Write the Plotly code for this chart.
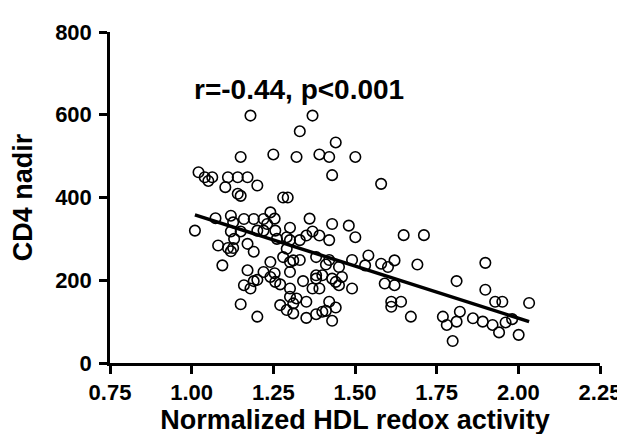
import plotly.graph_objects as go

hdl_redox = [
    1.180, 1.150, 1.021, 1.040, 1.051, 1.063, 1.103, 1.111, 1.141, 1.171,
    1.201, 1.141, 1.150, 1.073, 1.120, 1.160, 1.190, 1.220, 1.241, 1.010,
    1.127, 1.120, 1.150, 1.130, 1.201, 1.220, 1.231, 1.256, 1.081, 1.111,
    1.127, 1.120, 1.171, 1.190, 1.094, 1.171, 1.241, 1.220, 1.241, 1.256,
    1.201, 1.190, 1.160, 1.180, 1.150, 1.201, 1.370, 1.331, 1.441, 1.250,
    1.321, 1.391, 1.421, 1.501, 1.430, 1.580, 1.280, 1.294, 1.254, 1.361,
    1.301, 1.430, 1.481, 1.501, 1.261, 1.291, 1.301, 1.331, 1.351, 1.370,
    1.391, 1.421, 1.291, 1.280, 1.254, 1.271, 1.301, 1.311, 1.331, 1.301,
    1.341, 1.381, 1.421, 1.411, 1.451, 1.491, 1.531, 1.541, 1.580, 1.601,
    1.591, 1.460, 1.430, 1.441, 1.451, 1.381, 1.381, 1.400, 1.370, 1.391,
    1.491, 1.301, 1.301, 1.321, 1.311, 1.271, 1.291, 1.311, 1.351, 1.421,
    1.441, 1.400, 1.411, 1.381, 1.351, 1.430, 1.649, 1.711, 1.621, 1.691,
    1.621, 1.611, 1.611, 1.641, 1.671, 1.811, 1.899, 1.899, 1.929, 1.951,
    2.033, 1.769, 1.781, 1.821, 1.811, 1.799, 1.861, 1.891, 1.921, 1.941,
    1.961, 1.981, 2.001,
]
cd4_nadir = [
    598, 498, 461, 449, 440, 449, 425, 449, 449, 449,
    429, 409, 404, 350, 356, 348, 348, 348, 364, 320,
    340, 318, 318, 300, 320, 320, 336, 320, 284, 278,
    278, 270, 288, 269, 236, 224, 244, 220, 208, 196,
    201, 198, 188, 180, 142, 112, 598, 560, 533, 504,
    498, 504, 498, 498, 454, 433, 400, 400, 349, 349,
    327, 336, 332, 304, 300, 304, 297, 297, 308, 318,
    308, 297, 276, 256, 217, 190, 244, 248, 249, 220,
    198, 256, 249, 238, 232, 249, 236, 260, 240, 232,
    192, 208, 204, 196, 188, 212, 204, 212, 180, 180,
    180, 180, 160, 156, 144, 140, 128, 120, 148, 148,
    134, 124, 126, 118, 109, 102, 309, 309, 248, 238,
    188, 148, 136, 148, 112, 198, 242, 177, 148, 148,
    145, 112, 92, 124, 100, 53, 108, 100, 92, 74,
    98, 106, 68,
]

fit_x = [1.010, 2.033]
fit_y = [358, 100]

x_ticks = [0.75, 1.00, 1.25, 1.50, 1.75, 2.00, 2.25]
x_tick_text = ["0.75", "1.00", "1.25", "1.50", "1.75", "2.00", "2.25"]
y_ticks = [0, 200, 400, 600, 800]

annotation_text = "r=-0.44, p<0.001"

FONT = "Liberation Sans, Arial, sans-serif"

fig = go.Figure()
fig.add_trace(go.Scatter(
    x=hdl_redox, y=cd4_nadir, mode="markers",
    marker=dict(symbol="circle-open", size=10.5, color="black",
                line=dict(color="black", width=1.6)),
    showlegend=False, cliponaxis=False,
))
fig.add_trace(go.Scatter(
    x=fit_x, y=fit_y, mode="lines",
    line=dict(color="black", width=3.5),
    showlegend=False,
))

fig.update_layout(
    width=625, height=434,
    margin=dict(l=101.5, r=23.5, t=23, b=77.5),
    paper_bgcolor="white", plot_bgcolor="white",
    font=dict(family=FONT, color="black"),
    xaxis=dict(
        range=[0.75, 2.25], tickvals=x_ticks, ticktext=x_tick_text,
        showgrid=False, zeroline=False, showline=True, linecolor="black",
        linewidth=2.5, ticks="outside", ticklen=8, tickwidth=2.5,
        tickcolor="black",
        tickfont=dict(family=FONT, size=22, weight="bold", color="black"),
        title=dict(text="Normalized HDL redox activity", standoff=6,
                   font=dict(family=FONT, size=27, weight="bold", color="black")),
    ),
    yaxis=dict(
        range=[0, 800], tickvals=y_ticks,
        showgrid=False, zeroline=False, showline=True, linecolor="black",
        linewidth=2.5, ticks="outside", ticklen=8, tickwidth=2.5,
        tickcolor="black", ticklabelstandoff=3,
        tickfont=dict(family=FONT, size=22, weight="bold", color="black"),
        title=dict(text="CD4 nadir", standoff=16,
                   font=dict(family=FONT, size=27, weight="bold", color="black")),
    ),
    annotations=[dict(
        x=1.33, y=662, xref="x", yref="y", text=annotation_text,
        showarrow=False,
        font=dict(family=FONT, size=28, weight="bold", color="black"),
    )],
)

fig.write_html("out.html")
